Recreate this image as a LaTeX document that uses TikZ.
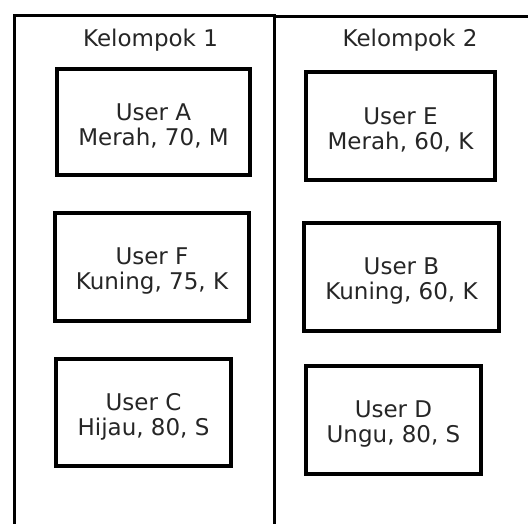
\documentclass[tikz,border=0pt]{standalone}
\usepackage{fontspec}
\setmainfont{DejaVu Sans}
\begin{document}
\begin{tikzpicture}[x=1pt,y=1pt,
  txt/.style={text=black!85, font=\fontsize{23}{25}\selectfont},
  userbox/.style={draw=black, line width=3.5pt, fill=white, inner sep=0pt},
  entry/.style={userbox, label={[txt, align=center, yshift=-4pt]center:#1}},
  groupframe/.style={draw=black, line width=3pt, anchor=north west, inner sep=0pt}]
  \useasboundingbox[fill=white] (0,0) rectangle (528,524);

  % the two group frames run past the bottom (and right) edge
  \node[groupframe, minimum width=260, minimum height=560] (g1) at (13,510) {};
  \node[groupframe, minimum width=280, minimum height=560] (g2) at (273,509) {};

  \node[txt] (k1) at (150.5,484) {Kelompok 1};
  \node[txt] (k2) at (410,484) {Kelompok 2};

  % Kelompok 1
  \node[entry={User A\\Merah, 70, M}, minimum width=193, minimum height=106] (ua) at (153.5,402) {};
  \node[entry={User F\\Kuning, 75, K}, minimum width=194, minimum height=108] (uf) at (152,257) {};
  \node[entry={User C\\Hijau, 80, S}, minimum width=175, minimum height=107] (uc) at (143.5,111.5) {};

  % Kelompok 2
  \node[entry={User E\\Merah, 60, K}, minimum width=189, minimum height=108] (ue) at (400.5,398) {};
  \node[entry={User B\\Kuning, 60, K}, minimum width=195, minimum height=108] (ub) at (401.5,247) {};
  \node[entry={User D\\Ungu, 80, S}, minimum width=175, minimum height=108] (ud) at (393.5,104) {};
\end{tikzpicture}
\end{document}
